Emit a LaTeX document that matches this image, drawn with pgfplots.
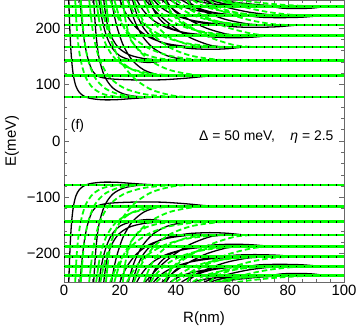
\documentclass[border=0pt]{standalone}
\usepackage{fontspec}
\setmainfont{Liberation Sans}
\usepackage{pgfplots}
\usepackage{pgfplotstable}
\pgfplotsset{compat=1.18}
\definecolor{lgreen}{RGB}{0,255,0}
\definecolor{framegray}{RGB}{105,105,105}

% black (solid) branches, positive side; mirrored for E<0 by a reversed axis
\pgfplotstableread{
R E
1.7 250
2.2 185
2.7 145
3.3 118
4.2 98
5.5 86
7.5 78.5
10 75
14 73
19 73.3
25 75.5
32 77.6
40 78
50 nan
5.7 250
6.6 203
7.5 170
8.6 145
10.2 124
12.5 114
17 110
25 108.3
35 108.5
44 111.5
51 114.8
58 115.5
50 nan
10.6 250
11.4 191.2
12.5 147.7
14.5 114.6
17.4 94.2
21.3 83.4
26.1 78.8
30 78
50 nan
12.5 250
13.04 231.1
13.85 209.7
15.2 185.8
17.2 165
19.9 151.2
23.3 144.3
26.5 141
30 139.3
33.5 140.5
37 143
50 nan
14.2 250
15.2 213.4
16.8 186.3
19.4 165.8
23.2 153
28.4 146.3
34.8 143.5
40 143
50 nan
17 250
17.8 226.2
19.1 199.3
21.2 169.3
24.4 143.2
28.6 125.8
33.8 117.1
38 115.5
50 nan
20 250
21.2 235.2
23 218.5
26 199.9
30.5 183.7
36.5 172.9
44 167.5
50 166.5
50 nan
23 250
24 231.1
25.5 209.7
28 185.8
31.8 165
36.8 151.2
43 144.3
48 143
50 nan
24.5 250
25.3 235.2
26.5 218.5
28.5 199.9
31.5 183.7
35.5 172.9
40.5 167.5
45 164
52 162.5
58 163.5
64 166.5
50 nan
26 250
27.3 238.8
29.2 226.2
32.4 212.2
37.2 200
43.6 191.8
51.6 187.7
58 187
50 nan
29 250
30.2 243.5
31.9 234.1
34.8 219.9
39.2 201.8
45 183.4
52.2 169.8
58 166.5
50 nan
30.5 250
31.4 238.8
32.7 226.2
34.9 212.2
38.2 200
42.6 191.8
48.1 187.7
53 184.5
60 183
67 184
74 187
50 nan
32 250
33.5 242.1
35.7 233.2
39.4 223.3
45 214.7
52.4 208.9
61.6 206
69 205.5
50 nan
35 250
36.2 245.1
37.9 238
40.8 227.3
45.2 213.6
51 199.8
58.2 189.5
64 187
50 nan
36.5 250
37.5 242.1
38.9 233.2
41.3 223.3
44.9 214.7
49.7 208.9
55.7 206
61 202.5
68 201.5
76 202.5
83 205.5
50 nan
38 250
39.5 245.1
41.7 239.6
45.4 233.5
51 228.2
58.4 224.6
67.6 222.8
75 222.5
50 nan
42 250
43.2 246.5
45 241.5
48 234
52.5 224.3
58.5 214.5
66 207.3
72 205.5
50 nan
44 250
45 245.1
46.6 239.6
49.2 233.5
53.1 228.2
58.3 224.6
64.8 222.8
70 219.5
77 218.7
85 219.5
92 222.5
50 nan
46 250
47.4 248
49.5 245.7
53 243.1
58.3 240.9
65.3 239.4
74 238.6
81 238.5
50 nan
50 250
51.2 247.8
53 244.8
56 240.1
60.5 234.1
66.5 228.1
74 223.6
80 222.5
50 nan
52.5 250
53.5 248
55.1 245.7
57.7 243.1
61.6 240.9
66.8 239.4
73.3 238.6
78 235.5
84 234.8
89 235.8
93 238.5
50 nan
55 250
56.2 249.1
58 247.8
61 245.9
65.5 243.4
71.5 240.8
79 239
85 238.5
}\blk

% green (dashed) branches
\pgfplotstableread{
R E
4 250
4.7 191.2
5.8 147.7
7.6 114.6
10.3 94.2
13.9 83.4
18.4 78.8
22 78
50 nan
6 250
7 191.2
8.4 147.7
10.8 114.6
14.4 94.2
19.2 83.4
25.2 78.8
30 78
50 nan
9 250
10.4 191.2
12.5 147.7
16 114.6
21.3 94.2
28.3 83.4
37 78.8
44 78
50 nan
11.5 250
12.9 204
15.05 170
18.6 144.1
23.9 128.1
31 119.7
39.9 116.1
47 115.5
50 nan
13 250
14.3 219.6
16.3 185.2
19.6 146.8
24.6 113.4
31.2 91.1
39.4 80
46 78
50 nan
15 250
16 204
17.5 170
20 144.1
23.8 128.1
28.8 119.7
35 116.1
40 115.5
50 nan
16.5 250
18.04 231.1
20.35 209.7
24.2 185.8
30 165
37.7 151.2
47.3 144.3
55 143
50 nan
18 250
19.4 226.2
21.6 199.3
25.2 169.3
30.6 143.2
37.8 125.8
46.8 117.1
54 115.5
50 nan
21 250
22 213.4
23.4 186.3
25.8 165.8
29.4 153
34.2 146.3
40.2 143.5
45 143
50 nan
22.5 250
24.1 235.2
26.45 218.5
30.4 199.9
36.3 183.7
44.2 172.9
54.1 167.5
62 166.5
50 nan
25 250
26.5 231.1
28.7 209.7
32.4 185.8
38 165
45.4 151.2
54.6 144.3
62 143
50 nan
28.6 250
29.7 235.2
31.2 218.5
33.9 199.9
37.8 183.7
43.1 172.9
49.7 167.5
55 166.5
50 nan
31 250
32.5 238.8
34.8 226.2
38.6 212.2
44.3 200
51.9 191.8
61.4 187.7
69 187
50 nan
33 250
34.4 243.5
36.5 234.1
40 219.9
45.3 201.8
52.3 183.4
61 169.8
68 166.5
50 nan
36 250
37 238.8
38.6 226.2
41.2 212.2
45.1 200
50.3 191.8
56.8 187.7
62 187
50 nan
38.5 250
40 242.1
42.25 233.2
46 223.3
51.6 214.7
59.1 208.9
68.5 206
76 205.5
50 nan
40 250
41.4 245.1
43.5 238
47 227.3
52.3 213.6
59.3 199.8
68 189.5
75 187
50 nan
44 250
45 242.1
46.6 233.2
49.2 223.3
53.1 214.7
58.3 208.9
64.8 206
70 205.5
50 nan
46 250
47.5 245.1
49.8 239.6
53.6 233.5
59.3 228.2
66.9 224.6
76.4 222.8
84 222.5
50 nan
48 250
49.3 246.5
51.3 241.5
54.6 234
59.6 224.3
66.2 214.5
74.4 207.3
81 205.5
50 nan
52 250
53 245.1
54.6 239.6
57.2 233.5
61.1 228.2
66.3 224.6
72.8 222.8
78 222.5
50 nan
54 250
55.5 248
57.7 245.7
61.4 243.1
67 240.9
74.4 239.4
83.6 238.6
91 238.5
50 nan
56 250
57.3 247.8
59.2 244.8
62.4 240.1
67.2 234.1
73.6 228.1
81.6 223.6
88 222.5
50 nan
58 250
59.1 248
60.7 245.7
63.4 243.1
67.5 240.9
72.9 239.4
79.6 238.6
85 238.5
50 nan
62 250
63.3 249.1
65.3 247.8
68.6 245.9
73.6 243.4
80.2 240.8
88.4 239
95 238.5
}\grn

% Landau levels
\pgfplotstableread{
R E
0 78
100 78
50 nan
0 115.5
100 115.5
50 nan
0 143
100 143
50 nan
0 166.5
100 166.5
50 nan
0 187
100 187
50 nan
0 205.5
100 205.5
50 nan
0 222.5
100 222.5
50 nan
0 238.5
100 238.5
}\lev

\begin{document}
\begin{tikzpicture}
\pgfplotsset{
  base/.style={
    scale only axis, width=280bp, height=282bp,
    xmin=0, xmax=100, ymin=-250, ymax=250,
    unbounded coords=jump,
  },
  curveB/.style={black, line width=1.3bp, smooth},
  curveG/.style={lgreen, line width=1.8bp, dash pattern=on 5.5bp off 3bp, smooth},
  levG/.style={lgreen, line width=2.8bp},
  levK/.style={black, line width=1.8bp, dash pattern=on 1.4bp off 6.6bp},
}
\begin{axis}[base, name=ax,
    axis line style={framegray, line width=0.8bp},
    tick align=inside,
    major tick length=5bp, minor tick length=3bp,
    tick style={framegray, line width=0.6bp},
    xtick={0,20,40,60,80,100}, xticklabels={0,20,40,60,80,100},
    ytick={-200,-100,0,100,200}, yticklabels={−200,−100,0,100,200},
    minor x tick num=3, minor y tick num=4,
    ticklabel style={font=\fontsize{15}{18}\selectfont},
]
\addplot[curveB] table[x=R,y=E] {\blk};
\addplot[curveG] table[x=R,y=E] {\grn};
\addplot[levG] table[x=R,y=E] {\lev};
\addplot[levK] table[x=R,y=E] {\lev};
\node[font=\fontsize{14}{16}\selectfont] at (axis cs:4.8,27) {(f)};
\node[anchor=east, font=\fontsize{14}{16}\selectfont] at (axis cs:97.5,7) {Δ = 50 meV,\hspace{1.1em}\textit{η} = 2.5};
\end{axis}
\begin{axis}[base, hide axis, y dir=reverse]
\addplot[curveB] table[x=R,y=E] {\blk};
\addplot[curveG] table[x=R,y=E] {\grn};
\addplot[levG] table[x=R,y=E] {\lev};
\addplot[levK] table[x=R,y=E] {\lev};
\end{axis}
\node[rotate=90, font=\fontsize{15}{18}\selectfont] at ([xshift=-52bp]ax.west) {E(meV)};
\node[font=\fontsize{15}{18}\selectfont] at ([yshift=-37bp]ax.south) {R(nm)};
\pgfresetboundingbox
\path ([xshift=-64bp,yshift=-46bp]ax.south west) rectangle ([xshift=16bp]ax.north east);
\end{tikzpicture}
\end{document}
